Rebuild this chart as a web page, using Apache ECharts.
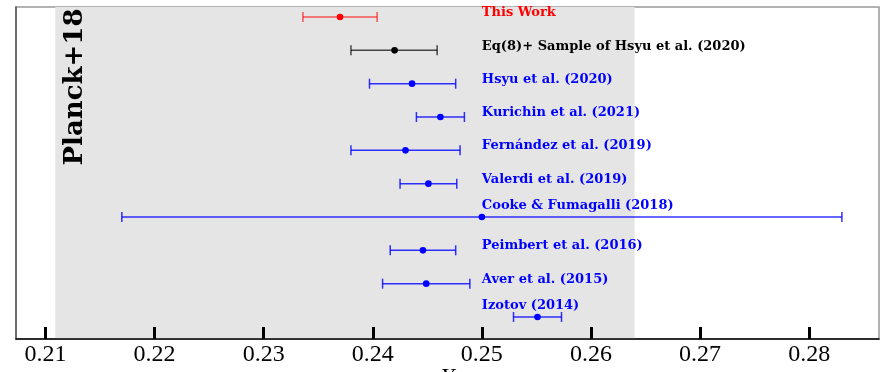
<!DOCTYPE html>
<html>
<head>
<meta charset="utf-8">
<script src="https://cdn.jsdelivr.net/npm/echarts@6/dist/echarts.min.js"></script>
<style>
html,body{margin:0;padding:0;background:#fff;}
#c{width:881px;height:372px;}
</style>
</head>
<body>
<div id="c"></div>
<script>
const categories = ['This Work', 'Eq(8)+ Sample of Hsyu et al. (2020)', 'Hsyu et al. (2020)', 'Kurichin et al. (2021)', 'Fernández et al. (2019)', 'Valerdi et al. (2019)', 'Cooke & Fumagalli (2018)', 'Peimbert et al. (2016)', 'Aver et al. (2015)', 'Izotov (2014)'];
const centers = [0.2370, 0.2420, 0.2436, 0.2462, 0.2430, 0.2451, 0.2500, 0.2446, 0.2449, 0.2551];
const errMinus = [0.0034, 0.0040, 0.0039, 0.0022, 0.0050, 0.0026, 0.0330, 0.0030, 0.0040, 0.0022];
const errPlus  = [0.0034, 0.0039, 0.0040, 0.0022, 0.0050, 0.0026, 0.0330, 0.0030, 0.0040, 0.0022];
const groups = ['red', 'black', 'blue', 'blue', 'blue', 'blue', 'blue', 'blue', 'blue', 'blue'];
const labelX = 0.25;
const labelShift = [-0.12, -0.12, -0.12, -0.12, -0.13, -0.13, -0.33, -0.13, -0.13, -0.33];
const planckBand = [0.2109, 0.2640];
const planckLabel = 'Planck+18';
const xTicks = [0.21, 0.22, 0.23, 0.24, 0.25, 0.26, 0.27, 0.28];
const xName = 'Y';

const palette = {
  red:   {bar: 'rgba(255,0,0,0.65)', dot: '#ff0000', text: '#ff0000'},
  black: {bar: 'rgba(0,0,0,0.7)', dot: '#000000', text: '#000000'},
  blue:  {bar: 'rgba(0,0,255,0.8)', dot: '#0000ff', text: '#0000ff'}
};

const data = categories.map((c, i) => [i, centers[i], centers[i] - errMinus[i], centers[i] + errPlus[i]]);

const chart = echarts.init(document.getElementById('c'));
chart.setOption({
  animation: false,
  backgroundColor: '#fff',
  grid: {left: 16, right: 2, top: 7, bottom: 33, containLabel: false, outerBoundsMode: 'none',
         show: true, borderColor: '#999', borderWidth: 1.5, backgroundColor: '#fff'},
  xAxis: {
    type: 'value', min: 0.2073, max: 0.2864, position: 'bottom', z: 10,
    axisLine: {show: true, onZero: false, lineStyle: {color: '#000', width: 1.5}},
    axisTick: {show: true, inside: true, length: 12, lineStyle: {color: '#000', width: 3}, customValues: xTicks},
    axisLabel: {customValues: xTicks, formatter: v => v.toFixed(2), fontFamily: 'Liberation Serif', fontSize: 24, color: '#000', margin: 4},
    splitLine: {show: false},
    name: xName, nameLocation: 'middle', nameGap: 27, nameMoveOverlap: false,
    nameTextStyle: {fontFamily: 'Liberation Serif', fontStyle: 'italic', fontSize: 24, color: '#000', verticalAlign: 'top'}
  },
  yAxis: {
    type: 'value', inverse: true, min: -0.3, max: 9.66, position: 'left', z: 10,
    axisLine: {show: true, onZero: false, lineStyle: {color: '#555', width: 1.5}},
    axisTick: {show: false}, axisLabel: {show: false}, splitLine: {show: false}
  },
  series: [
    {
      type: 'custom', z: 1, silent: true,
      data: [],
      renderItem: () => null,
      markArea: {silent: true, itemStyle: {color: '#e5e5e5'}, data: [[{xAxis: planckBand[0]}, {xAxis: planckBand[1]}]]}
    },
    {
      type: 'custom', z: 3, silent: true,
      encode: {x: [1, 2, 3], y: 0},
      data: data,
      clip: false,
      renderItem: function (params, api) {
        const i = params.dataIndex;
        const yi = api.value(0);
        const pc = api.coord([api.value(1), yi]);
        const pl = api.coord([api.value(2), yi]);
        const ph = api.coord([api.value(3), yi]);
        const col = palette[groups[i]];
        const cap = 5;
        const pt = api.coord([labelX, yi + labelShift[i]]);
        return {
          type: 'group',
          children: [
            {type: 'line', shape: {x1: pl[0], y1: pl[1], x2: ph[0], y2: ph[1]}, style: {stroke: col.bar, lineWidth: 1.5}},
            {type: 'line', shape: {x1: pl[0], y1: pl[1] - cap, x2: pl[0], y2: pl[1] + cap}, style: {stroke: col.bar, lineWidth: 1.5}},
            {type: 'line', shape: {x1: ph[0], y1: ph[1] - cap, x2: ph[0], y2: ph[1] + cap}, style: {stroke: col.bar, lineWidth: 1.5}},
            {type: 'circle', shape: {cx: pc[0], cy: pc[1], r: 3.3}, style: {fill: col.dot}},
            {type: 'text', x: pt[0], y: pt[1], style: {text: categories[i], fill: col.text, font: 'bold 13px "DejaVu Serif"', align: 'left', verticalAlign: 'middle'}}
          ]
        };
      }
    }
  ],
  graphic: [
    {type: 'text', x: 75, y: 87, rotation: Math.PI / 2, z: 10,
     style: {text: planckLabel, font: 'bold 26px "DejaVu Serif"', fill: '#000', align: 'center', verticalAlign: 'middle'}}
  ]
});
</script>
</body>
</html>
